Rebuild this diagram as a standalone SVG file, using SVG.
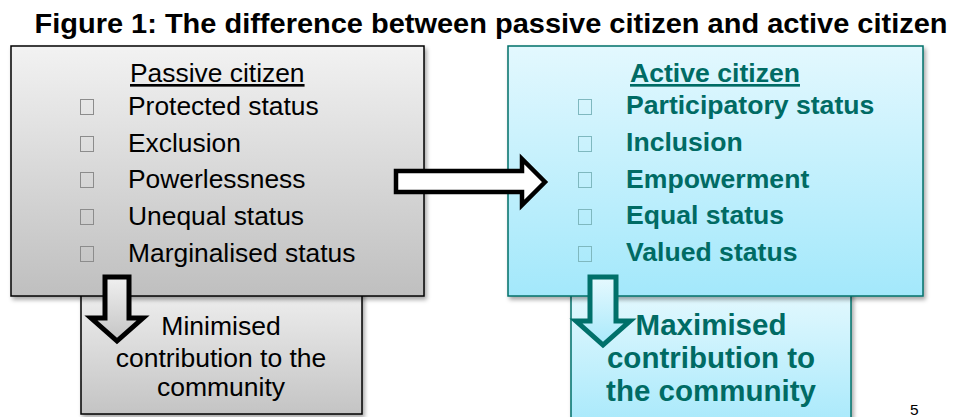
<svg xmlns="http://www.w3.org/2000/svg" width="960" height="417" viewBox="0 0 960 417">
<defs>
  <linearGradient id="gGrey" x1="0" y1="0" x2="0" y2="1">
    <stop offset="0" stop-color="#f2f2f2"/>
    <stop offset="1" stop-color="#bfbfbf"/>
  </linearGradient>
  <linearGradient id="gCyan" x1="0" y1="0" x2="0" y2="1">
    <stop offset="0" stop-color="#e3f8fe"/>
    <stop offset="1" stop-color="#a3e8fb"/>
  </linearGradient>
  <linearGradient id="gGreyS" x1="0" y1="0" x2="0" y2="1">
    <stop offset="0" stop-color="#f0f0f0"/>
    <stop offset="1" stop-color="#c4c4c4"/>
  </linearGradient>
  <linearGradient id="gCyanS" x1="0" y1="0" x2="0" y2="1">
    <stop offset="0" stop-color="#e6f9fe"/>
    <stop offset="1" stop-color="#a8e9fb"/>
  </linearGradient>
  <filter id="sh" x="-10%" y="-10%" width="120%" height="120%">
    <feDropShadow dx="2" dy="3" stdDeviation="2" flood-color="#000" flood-opacity="0.35"/>
  </filter>
</defs>
<style>
  .t { font-family: "Liberation Sans", Arial, sans-serif; }
  .pv { font-size: 26.4px; fill: #000; }
  .ac { font-size: 26.6px; font-weight: bold; fill: #006b64; }
  .bx { fill: none; stroke: #8c8c8c; stroke-width: 1; }
  .bxa { fill: none; stroke: #7fb8bf; stroke-width: 1; }
</style>
<rect width="960" height="417" fill="#fff"/>
<text class="t" x="491" y="33" text-anchor="middle" font-size="27" font-weight="bold" textLength="913" lengthAdjust="spacingAndGlyphs">Figure 1: The difference between passive citizen and active citizen</text>

<g id="passive-result">
  <rect x="81" y="286" width="281" height="128" fill="url(#gGreyS)" stroke="#000" stroke-width="1.5" filter="url(#sh)"/>
  <text class="t" x="221" y="335" text-anchor="middle" font-size="26.5">Minimised</text>
  <text class="t" x="221" y="367" text-anchor="middle" font-size="26.5">contribution to the</text>
  <text class="t" x="221" y="396" text-anchor="middle" font-size="26.5">community</text>
</g>

<g id="active-result">
  <rect x="571" y="286" width="280" height="140" fill="url(#gCyanS)" stroke="#00706a" stroke-width="1.5" filter="url(#sh)"/>
  <text class="t" x="711" y="335" text-anchor="middle" font-size="29.5" font-weight="bold" fill="#006b64">Maximised</text>
  <text class="t" x="711" y="368" text-anchor="middle" font-size="29.5" font-weight="bold" fill="#006b64">contribution to</text>
  <text class="t" x="711" y="401" text-anchor="middle" font-size="29.5" font-weight="bold" fill="#006b64">the community</text>
</g>

<g id="passive">
  <rect x="11" y="46" width="413" height="250" fill="url(#gGrey)" stroke="#000" stroke-width="1.5" filter="url(#sh)"/>
  <text class="t pv" x="130" y="82" text-decoration="underline">Passive citizen</text>
  <rect class="bx" x="80.5" y="99.5" width="13" height="15"/>
  <text class="t pv" x="128" y="115">Protected status</text>
  <rect class="bx" x="80.5" y="136.5" width="13" height="15"/>
  <text class="t pv" x="128" y="152">Exclusion</text>
  <rect class="bx" x="80.5" y="172.5" width="13" height="15"/>
  <text class="t pv" x="128" y="188">Powerlessness</text>
  <rect class="bx" x="80.5" y="209.5" width="13" height="15"/>
  <text class="t pv" x="128" y="225">Unequal status</text>
  <rect class="bx" x="80.5" y="246.5" width="13" height="15"/>
  <text class="t pv" x="128" y="262">Marginalised status</text>
</g>

<g id="active">
  <rect x="508" y="46" width="415" height="250" fill="url(#gCyan)" stroke="#00706a" stroke-width="1.5" filter="url(#sh)"/>
  <text class="t ac" x="630" y="82" text-decoration="underline">Active citizen</text>
  <rect class="bxa" x="578.5" y="99.5" width="13" height="15"/>
  <text class="t ac" x="626" y="114">Participatory status</text>
  <rect class="bxa" x="578.5" y="136.5" width="13" height="15"/>
  <text class="t ac" x="626" y="151">Inclusion</text>
  <rect class="bxa" x="578.5" y="172.5" width="13" height="15"/>
  <text class="t ac" x="626" y="188">Empowerment</text>
  <rect class="bxa" x="578.5" y="209.5" width="13" height="15"/>
  <text class="t ac" x="626" y="224">Equal status</text>
  <rect class="bxa" x="578.5" y="246.5" width="13" height="15"/>
  <text class="t ac" x="626" y="261">Valued status</text>
</g>

<g id="connectors">
  <path d="M396,171 L522,171 L522,159 L545,182 L522,205 L522,192 L396,192 Z" fill="#fff" stroke="#000" stroke-width="4.5" stroke-linejoin="miter"/>
  <path d="M105,277 L129,277 L129,318 L143,318 L117,341 L91,318 L105,318 Z" fill="url(#gGreyS)" stroke="#000" stroke-width="5" stroke-linejoin="miter"/>
  <path d="M590,277 L616,277 L616,321 L630,321 L603,345 L576,321 L590,321 Z" fill="url(#gCyanS)" stroke="#00706a" stroke-width="5" stroke-linejoin="miter"/>
</g>

<text class="t" x="910" y="415" font-size="15.5">5</text>
</svg>
